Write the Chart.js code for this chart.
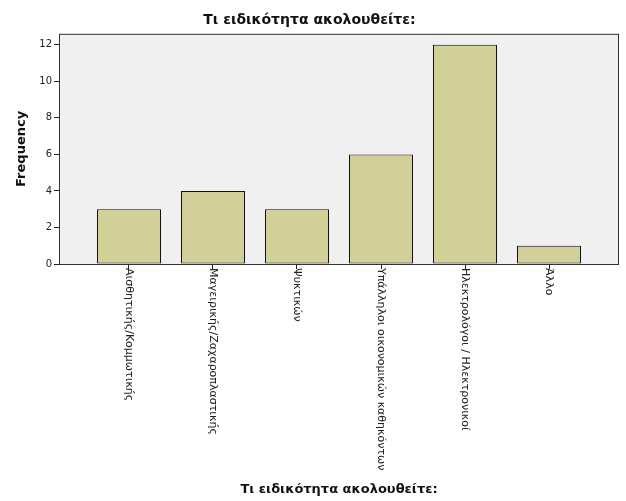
<!DOCTYPE html>
<html>
<head>
<meta charset="utf-8">
<script src="https://cdn.jsdelivr.net/npm/chart.js@4"></script>
<style>
  html, body { margin: 0; padding: 0; background: #fff; }
  #wrap { width: 626px; height: 501px; }
</style>
</head>
<body>
<div id="wrap"><canvas id="chart" width="626" height="501"></canvas></div>
<script>
var categories = [
    "Αισθητικής/Κομμωτικής",
    "Μαγειρικής/Ζαχαροπλαστικής",
    "Ψυκτικών",
    "Υπάλληλοι οικονομικών καθηκόντων",
    "Ηλεκτρολόγοι / Ηλεκτρονικοί",
    "Άλλο"
];
var frequencies = [3, 4, 3, 6, 12, 1];
var yTicks = [0, 2, 4, 6, 8, 10, 12];

var titleText = "Τι ειδικότητα ακολουθείτε:";
var fontName = "'DejaVu Sans', sans-serif";

// plot frame + rotated category labels
var framePlugin = {
    id: "frame",
    beforeDraw: function (chart) {
        var a = chart.chartArea;
        var ctx = chart.ctx;
        ctx.save();
        ctx.fillStyle = "#f0f0f0";
        ctx.fillRect(a.left, a.top, a.right - a.left, a.bottom - a.top);
        ctx.restore();
    },
    afterDraw: function (chart) {
        var a = chart.chartArea;
        var ctx = chart.ctx;
        var xs = chart.scales.x;
        ctx.save();
        ctx.strokeStyle = "#333333";
        ctx.lineWidth = 1;
        ctx.strokeRect(a.left + 0.5, a.top + 0.5, a.right - a.left - 1, a.bottom - a.top);
        ctx.fillStyle = "#222222";
        ctx.font = "11px " + fontName;
        ctx.textAlign = "left";
        ctx.textBaseline = "middle";
        categories.forEach(function (label, i) {
            var x = xs.getPixelForValue(i);
            ctx.save();
            ctx.translate(x, a.bottom + 4);
            ctx.rotate(Math.PI / 2);
            ctx.fillText(label, 0, 0);
            ctx.restore();
        });
        ctx.restore();
    }
};

new Chart(document.getElementById("chart"), {
    type: "bar",
    data: {
        datasets: [
            {
                data: frequencies.map(function (v, i) { return { x: i, y: v }; }),
                backgroundColor: "#d3cf98",
                borderColor: "#111111",
                borderWidth: 1,
                borderSkipped: false,
                barPercentage: 0.762,
                categoryPercentage: 1
            }
        ]
    },
    options: {
        responsive: false,
        animation: false,
        layout: { padding: { left: 0, right: 7, top: 0, bottom: 0 } },
        plugins: {
            legend: { display: false },
            tooltip: { enabled: false },
            title: {
                display: true,
                text: titleText,
                color: "#111111",
                font: { family: fontName, size: 14, weight: "bold" },
                padding: { top: 12, bottom: 5 }
            }
        },
        scales: {
            x: {
                type: "linear",
                offset: false,
                min: -0.8333,
                max: 5.8333,
                afterBuildTicks: function (s) {
                    s.ticks = categories.map(function (c, i) { return { value: i }; });
                },
                afterFit: function (s) { s.height = 237; },
                grid: { offset: false, drawOnChartArea: false, drawTicks: true, tickLength: 5, color: "#222222" },
                border: { display: false },
                ticks: { display: false },
                title: {
                    display: true,
                    text: titleText,
                    color: "#111111",
                    font: { family: fontName, size: 13, weight: "bold" },
                    padding: { top: 0, bottom: 4 }
                }
            },
            y: {
                min: 0,
                max: 12.6,
                afterBuildTicks: function (s) {
                    s.ticks = yTicks.map(function (v) { return { value: v }; });
                },
                afterFit: function (s) { s.width = 59; },
                grid: { drawOnChartArea: false, drawTicks: true, tickLength: 5, color: "#222222" },
                border: { display: false },
                ticks: {
                    color: "#222222",
                    padding: 2,
                    font: { family: fontName, size: 10 }
                },
                title: {
                    display: true,
                    text: "Frequency",
                    color: "#111111",
                    font: { family: fontName, size: 13, weight: "bold" },
                    padding: { top: 14, bottom: 0 }
                }
            }
        }
    },
    plugins: [framePlugin]
});
</script>
</body>
</html>
